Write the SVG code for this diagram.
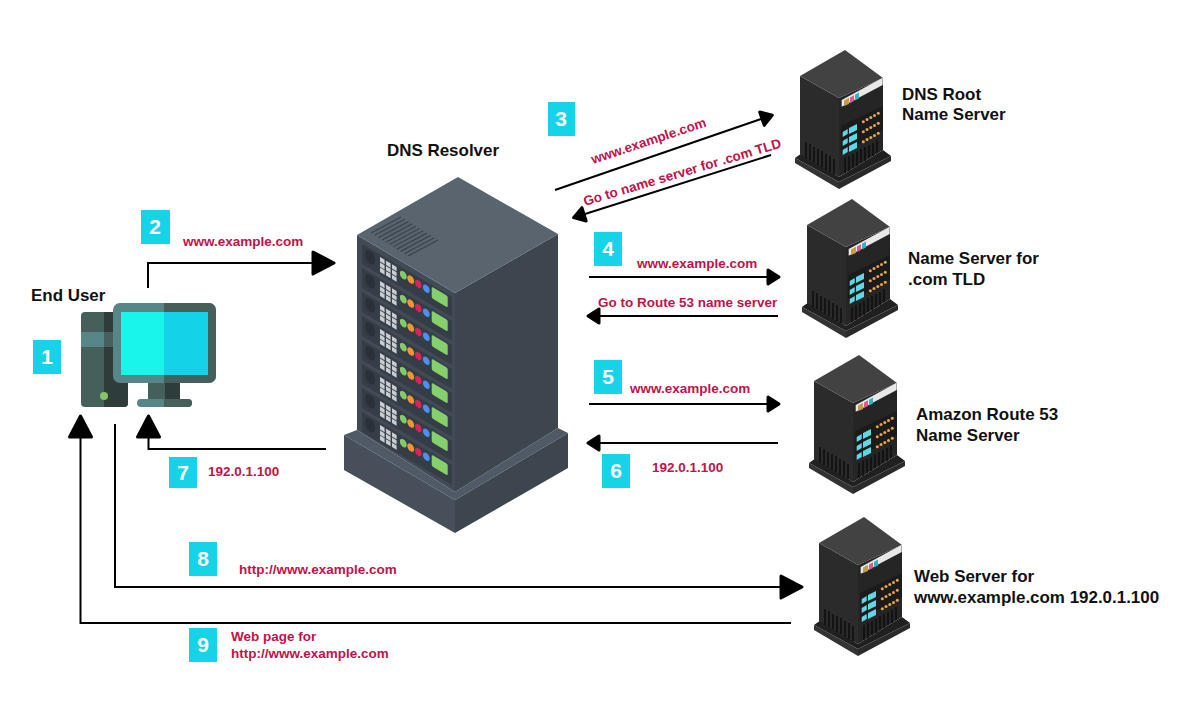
<svg xmlns="http://www.w3.org/2000/svg" width="1200" height="712" viewBox="0 0 1200 712">
<style>
.nl{font:bold 16.950px "Liberation Sans",Arial,sans-serif;fill:#111}
.rl{font:bold 13.500px "Liberation Sans",Arial,sans-serif;fill:#c2124a}
.bt{font:bold 21px "Liberation Sans",Arial,sans-serif;fill:#fff;text-anchor:middle}
.bd{fill:#17d3e8}
.cn{fill:none;stroke:#000;stroke-width:2}
.cell{fill:#c9cdd2}
.st{fill:none;stroke:#0e0e0e;stroke-width:1.500}
</style>
<defs>
<marker id="big" markerUnits="userSpaceOnUse" markerWidth="30" markerHeight="30" refX="2" refY="15" orient="auto"><path d="M3,4 L24,15 L3,26 Z" fill="#000" stroke="#000" stroke-width="3" stroke-linejoin="round"/></marker>
<marker id="small" markerUnits="userSpaceOnUse" markerWidth="24" markerHeight="24" refX="2" refY="12" orient="auto"><path d="M3,5 L14,12 L3,19 Z" fill="#000" stroke="#000" stroke-width="3" stroke-linejoin="round"/></marker>
<g id="rack">
<rect x="0" y="0" width="90" height="20" fill="#353d47"/>
<ellipse cx="8" cy="8.500" rx="5" ry="6.500" fill="#2b3139"/>
<g class="cell"><rect x="18" y="2.500" width="4.600" height="4.300"/><rect x="24" y="2.500" width="4.600" height="4.300"/><rect x="30" y="2.500" width="4.600" height="4.300"/><rect x="18" y="7.800" width="4.600" height="4.300"/><rect x="24" y="7.800" width="4.600" height="4.300"/><rect x="30" y="7.800" width="4.600" height="4.300"/><rect x="18" y="13" width="4.600" height="4.300"/><rect x="24" y="13" width="4.600" height="4.300"/><rect x="30" y="13" width="4.600" height="4.300"/></g>
<ellipse cx="41.300" cy="6.800" rx="3.400" ry="3.800" fill="#84cc68"/><ellipse cx="48.700" cy="6.800" rx="3.400" ry="3.800" fill="#f0963c"/><ellipse cx="56.300" cy="6.800" rx="3.400" ry="3.800" fill="#d8245a"/><ellipse cx="64.300" cy="6.800" rx="3.400" ry="3.800" fill="#4d8fee"/>
<rect x="69.700" y="1.500" width="16" height="11.500" rx="1.500" fill="#86d06c"/>
</g>
<g id="srv">
<path d="M-5,108 L2,103 L39,127 L83,100 L91,106 L39,132 Z" fill="#202020"/>
<path d="M-5,108 L39,132 V139 L-5,113 Z" fill="#333"/>
<path d="M39,132 L91,106 V111 L39,139 Z" fill="#2a2a2a"/>
<path d="M0,26 L39,48 V127 L0,104 Z" fill="#2b2b2b"/>
<path d="M39,48 L83,28 V100 L39,127 Z" fill="#252525"/>
<path d="M0,26 L45,0 L83,28 L39,48 Z" fill="#424242"/>
<g class="st"><path d="M6,92 V108"/><path d="M10,94 V110"/><path d="M14,97 V112"/><path d="M18,99 V115"/><path d="M22,101 V117"/><path d="M26,104 V120"/><path d="M30,106 V122"/><path d="M34,109 V124"/><path d="M45,108 V123"/><path d="M49,106 V121"/><path d="M53,104 V118"/><path d="M57,102 V116"/><path d="M61,99 V113"/><path d="M65,97 V111"/><path d="M69,95 V108"/><path d="M73,93 V106"/><path d="M77,90 V103"/></g>
<path d="M41.700,50 L82.700,27.700 V35 L41.700,56.700 Z" fill="#e8e8e8"/>
<path d="M44,50.500 L49,47.800 V54 L44,56Z" fill="#c79a4b"/><path d="M50,47.500 L54,45.300 V51 L50,53Z" fill="#e0588c"/><path d="M55,44.800 L59,42.500 V48.500 L55,50.500Z" fill="#2fb4c4"/>
<path d="M41,76 L83,56 V80 L41,104 Z" fill="#1b1b1b"/>
<g fill="#5fd8e6"><path d="M42.700,82 L47.700,79 V84 L42.700,87Z"/><path d="M49,78 L57,74 V80 L49,84Z"/><path d="M42.700,91 L47.700,88 V93 L42.700,96Z"/><path d="M49,87 L57,83 V89 L49,93Z"/><path d="M42.700,100 L47.700,97 V102 L42.700,105Z"/><path d="M49,96 L57,92 V98 L49,102Z"/></g>
<g fill="#e8a64a"><circle cx="63.300" cy="71.700" r="1.500"/><circle cx="67" cy="69.600" r="1.500"/><circle cx="70.800" cy="67.500" r="1.500"/><circle cx="74.500" cy="65.400" r="1.500"/><circle cx="78.300" cy="63.300" r="1.500"/><circle cx="63.300" cy="81.700" r="1.500"/><circle cx="67" cy="79.600" r="1.500"/><circle cx="70.800" cy="77.500" r="1.500"/><circle cx="74.500" cy="75.400" r="1.500"/><circle cx="78.300" cy="73.300" r="1.500"/><circle cx="63.300" cy="91.700" r="1.500"/><circle cx="67" cy="89.600" r="1.500"/><circle cx="70.800" cy="87.500" r="1.500"/><circle cx="74.500" cy="85.400" r="1.500"/><circle cx="78.300" cy="83.300" r="1.500"/></g>
</g>
</defs>
<rect width="1200" height="712" fill="#fff"/>

<g id="end-user">
<rect x="81" y="312" width="47" height="95" rx="4" fill="#45605a"/>
<path d="M104,312 H124 a4,4 0 0 1 4,4 V403 a4,4 0 0 1 -4,4 H104 Z" fill="#2e3d3a"/>
<rect x="81" y="332" width="23" height="15" fill="#578689"/><rect x="104" y="332" width="24" height="15" fill="#47605e"/>
<circle cx="104" cy="396" r="4" fill="#86c466"/>
<rect x="148" y="380" width="17" height="20" fill="#45605a"/><rect x="165" y="380" width="15" height="20" fill="#2e3d3a"/>
<rect x="137" y="399" width="55" height="8" rx="4" fill="#578689"/><path d="M164,399 H188 a4,4 0 0 1 0,8 H164Z" fill="#45605a"/>
<rect x="113" y="303" width="103" height="80" rx="7" fill="#578689"/>
<path d="M164,303 H209 a7,7 0 0 1 7,7 V376 a7,7 0 0 1 -7,7 H164 Z" fill="#45605a"/>
<rect x="121" y="312" width="44" height="63" fill="#19f5e8"/><rect x="164" y="312" width="44" height="63" fill="#14d2e8"/>
<text class="nl" x="31" y="301">End User</text>
</g>

<g id="dns-resolver">
<path d="M344,435 L357,430 L455,492 L558,428 L568,433 L455,500 Z" fill="#4f5a66"/>
<path d="M344,435 L455,500 V533 L344,470 Z" fill="#464f5a"/>
<path d="M455,500 L568,433 V468 L455,533 Z" fill="#3d454e"/>
<path d="M357,235 L455,293 V492 L357,430 Z" fill="#414a55"/>
<path d="M455,293 L558,234 V428 L455,492 Z" fill="#3d454e"/>
<path d="M357,235 L458,177 L558,234 L455,293 Z" fill="#59646f"/>
<g fill="none" stroke="#3b434c" stroke-width="1.300"><path d="M371,233 L401,217"/><path d="M374.700,235.300 L404.700,219.300"/><path d="M378.400,237.600 L408.400,221.600"/><path d="M382.100,239.900 L412.100,223.900"/><path d="M385.800,242.200 L415.800,226.200"/><path d="M389.500,244.500 L419.500,228.500"/><path d="M393.200,246.800 L423.200,230.800"/><path d="M396.900,249.100 L426.900,233.100"/><path d="M400.600,251.400 L430.600,235.400"/><path d="M404.300,253.700 L434.300,237.700"/><path d="M408,256 L438,240"/></g>
<g transform="matrix(1,.59,0,1,362,244)">
<use href="#rack"/><use href="#rack" y="24"/><use href="#rack" y="48"/><use href="#rack" y="72"/><use href="#rack" y="96"/><use href="#rack" y="120"/><use href="#rack" y="144"/><use href="#rack" y="168"/>
</g>
<text class="nl" x="387" y="156">DNS Resolver</text>
</g>

<g id="dns-root"><use href="#srv" x="800" y="50"/><text class="nl" x="902" y="100">DNS Root</text><text class="nl" x="902" y="120">Name Server</text></g>
<g id="tld-server"><use href="#srv" x="807" y="199"/><text class="nl" x="908" y="264">Name Server for</text><text class="nl" x="908" y="285">.com TLD</text></g>
<g id="route53"><use href="#srv" x="814" y="355"/><text class="nl" x="916" y="420">Amazon Route 53</text><text class="nl" x="916" y="441">Name Server</text></g>
<g id="web-server"><use href="#srv" x="819" y="517"/><text class="nl" x="914" y="582">Web Server for</text><text class="nl" x="914" y="603">www.example.com 192.0.1.100</text></g>

<g id="connectors">
<path class="cn" d="M148,288 V263 H312" marker-end="url(#big)"/>
<path class="cn" d="M326,449 H148.500 V438" marker-end="url(#big)"/>
<path class="cn" d="M791,623 H80.500 V438" marker-end="url(#big)"/>
<path class="cn" d="M115,424 V587 H780" marker-end="url(#big)"/>
<path class="cn" d="M555,190 L761,119" marker-end="url(#small)"/>
<path class="cn" d="M771,155 L585,214" marker-end="url(#small)"/>
<path class="cn" d="M589,277 H767" marker-end="url(#small)"/>
<path class="cn" d="M778,316 H600" marker-end="url(#small)"/>
<path class="cn" d="M589,404 H767" marker-end="url(#small)"/>
<path class="cn" d="M778,443 H600" marker-end="url(#small)"/>
</g>

<g id="labels">
<text class="rl" x="183" y="246">www.example.com</text>
<text class="rl" transform="translate(593,164) rotate(-18.300)">www.example.com</text>
<text class="rl" transform="translate(585,206) rotate(-16.600)">Go to name server for .com TLD</text>
<text class="rl" x="637" y="268">www.example.com</text>
<text class="rl" x="598" y="307">Go to Route 53 name server</text>
<text class="rl" x="630" y="393">www.example.com</text>
<text class="rl" x="652" y="472">192.0.1.100</text>
<text class="rl" x="208" y="476">192.0.1.100</text>
<text class="rl" x="239" y="574">http://www.example.com</text>
<text class="rl" x="231" y="641">Web page for</text>
<text class="rl" x="231" y="658">http://www.example.com</text>
</g>

<g id="badges">
<rect class="bd" x="33" y="340" width="28" height="34"/><text class="bt" x="47" y="364">1</text>
<rect class="bd" x="141" y="210" width="29" height="34"/><text class="bt" x="155" y="234">2</text>
<rect class="bd" x="548" y="102" width="27" height="34"/><text class="bt" x="561" y="126">3</text>
<rect class="bd" x="594" y="232" width="28" height="34"/><text class="bt" x="608" y="256">4</text>
<rect class="bd" x="594" y="360" width="28" height="34"/><text class="bt" x="608" y="384">5</text>
<rect class="bd" x="602" y="454" width="28" height="34"/><text class="bt" x="616" y="478">6</text>
<rect class="bd" x="169" y="457" width="28" height="31"/><text class="bt" x="183" y="480">7</text>
<rect class="bd" x="189" y="542" width="28" height="34"/><text class="bt" x="203" y="566">8</text>
<rect class="bd" x="189" y="628" width="28" height="34"/><text class="bt" x="203" y="652">9</text>
</g>
</svg>
